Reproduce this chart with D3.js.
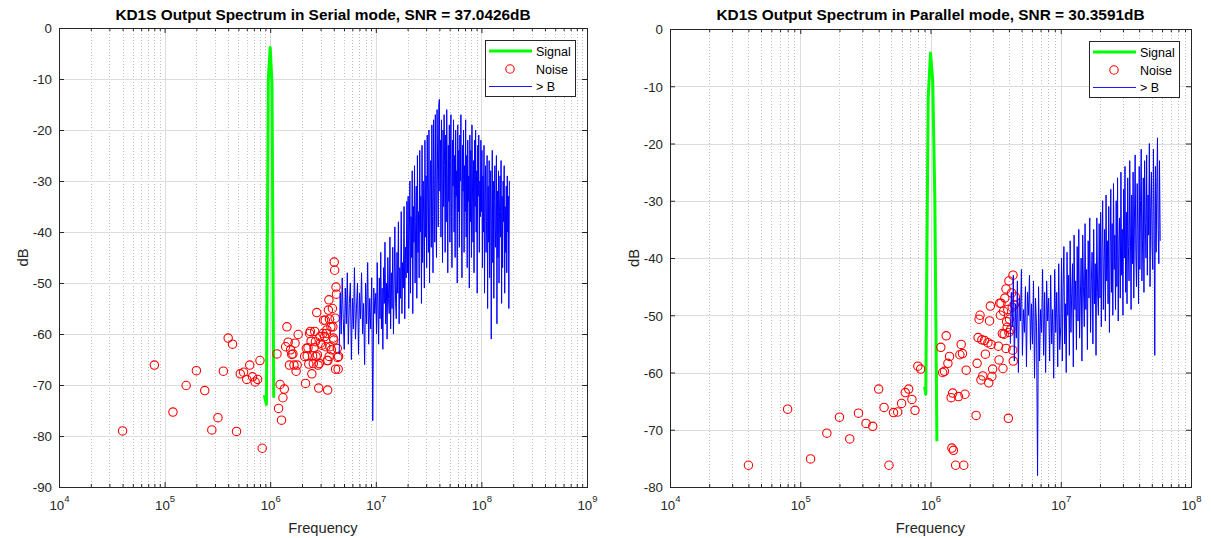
<!DOCTYPE html>
<html><head><meta charset="utf-8">
<script src="https://cdn.jsdelivr.net/npm/d3@7"></script>
<style>body{margin:0;background:#fff;}svg{display:block;font-family:"Liberation Sans",Arial,Helvetica,sans-serif;}</style>
</head><body><svg id="c" width="1211" height="538"></svg>
<script>
// ---------- DATA ----------
const leftTitle = "KD1S Output Spectrum in Serial mode, SNR = 37.0426dB";
const rightTitle = "KD1S Output Spectrum in Parallel mode, SNR = 30.3591dB";
const xLabel = "Frequency";
const yLabel = "dB";
const legendLabels = ["Signal", "Noise", "> B"];
const leftXExp = [4, 5, 6, 7, 8, 9];
const rightXExp = [4, 5, 6, 7, 8];
const leftYTicks = [0, -10, -20, -30, -40, -50, -60, -70, -80, -90];
const rightYTicks = [0, -10, -20, -30, -40, -50, -60, -70, -80];

// Signal (Hz, dB)
const leftSigF = [0.88e6, 0.92e6, 0.96e6, 1.0e6, 1.04e6, 1.08e6];
const leftSigDb = [-72, -73.8, -10, -3.8, -11, -72.5];
const rightSigF = [0.90e6, 0.92e6, 0.96e6, 1.0e6, 1.04e6, 1.08e6, 1.12e6];
const rightSigDb = [-62.5, -63.8, -12, -4.2, -9, -30, -72];

// Noise bins (MHz, dB)
const leftNoiseF = [0.04,0.08,0.12,0.16,0.20,0.24,0.28,0.32,0.36,0.40,0.44,0.48,0.52,0.56,0.60,0.64,0.68,0.72,0.76,0.80,0.84,
  1.16,1.20,1.24,1.28,1.32,1.36,1.40,1.44,1.48,1.52,1.56,1.60,1.64,1.68,1.72,1.76,1.80,1.84,
  2.12,2.16,2.20,2.24,2.28,2.32,2.36,2.40,2.44,2.48,2.52,2.56,2.60,2.64,2.68,2.72,2.76,2.80,2.84,2.88,2.92,2.96,
  3.00,3.08,3.16,3.20,3.28,3.32,3.36,3.40,3.44,3.46,3.50,3.52,3.56,3.60,3.62,3.64,3.68,3.76,3.80,3.88,3.92,3.96,
  4.00,4.04,4.08,4.12,4.16,4.20,4.24,4.32,4.36,4.40,4.44];
const leftNoiseDb = [-79.0,-66.1,-75.3,-70.1,-67.2,-71.1,-78.8,-76.4,-67.3,-60.8,-62.0,-79.1,-67.8,-67.5,-68.9,-66.1,-68.4,-69.4,-68.9,-65.2,-82.4,
  -63.9,-74.6,-69.9,-76.9,-72.5,-70.8,-62.5,-58.6,-61.6,-66.1,-63.1,-64.0,-63.9,-66.1,-61.8,-67.3,-66.1,-60.1,
  -64.4,-69.7,-62.8,-64.3,-62.7,-65.9,-59.9,-59.5,-61.4,-67.8,-64.3,-65.8,-62.7,-59.5,-61.5,-64.4,-55.8,-64.1,-66.1,-70.6,-65.8,-60.5,
  -61.8,-62.2,-59.9,-57.3,-60.5,-57.3,-62.5,-59.9,-59.2,-65.2,-71.0,-65.2,-55.3,-53.3,-64.4,-57.1,-62.5,-58.6,-63.1,-55.0,-58.6,-60.8,
  -61.2,-45.9,-47.5,-56.9,-66.9,-50.8,-52.2,-62.8,-64.6,-66.9,-64.4];
const rightNoiseF = [0.04,0.08,0.12,0.16,0.20,0.24,0.28,0.32,0.36,0.40,0.44,0.48,0.52,0.56,0.60,0.64,0.68,0.72,0.76,0.80,0.84,
  1.20,1.24,1.28,1.32,1.36,1.40,1.44,1.46,1.48,1.50,1.56,1.64,1.68,1.72,1.76,1.80,1.84,1.88,
  2.24,2.28,2.32,2.36,2.40,2.44,2.48,2.52,2.60,2.64,2.76,2.80,2.84,2.88,2.92,2.96,3.00,
  3.32,3.36,3.40,3.44,3.48,3.56,3.60,3.64,3.68,3.72,3.80,3.84,3.88,3.80,3.92,3.96,4.00,4.00,4.04,4.12,4.20,4.24,4.28,4.30,4.32,4.40,4.48];
const rightNoiseDb = [-76.2,-66.4,-75.1,-70.6,-67.8,-71.6,-67.1,-68.9,-69.4,-62.9,-66.1,-76.2,-67.0,-66.9,-65.4,-63.5,-62.9,-64.7,-66.6,-58.9,-59.4,
  -55.6,-60.0,-59.8,-53.6,-58.4,-57.2,-64.4,-73.2,-63.6,-73.6,-76.2,-64.2,-56.9,-55.1,-56.7,-76.2,-63.8,-59.6,
  -67.5,-58.4,-53.9,-50.7,-50.0,-61.3,-54.3,-60.6,-54.4,-56.8,-54.8,-61.8,-51.0,-48.4,-55.1,-60.7,-59.4,
  -55.4,-57.8,-47.9,-50.0,-47.9,-53.2,-59.3,-49.3,-53.3,-47.0,-55.8,-51.1,-52.1,-45.4,-49.0,-68.0,-53.0,-44.0,-50.7,-52.5,-46.1,-48.6,-56.1,-43.0,-58.0,-48.2,-46.8];

// "> B" out-of-band spectrum: segment edges (Hz) and dB samples per segment
const leftBlueEdges = [4.5e6, 1e7, 2e7, 4e7, 1e8, 1.84e8];
const leftBlueDb = [
  [-64,-52,-60,-49,-57,-63,-51,-58,-48,-62,-54,-50,-65,-53,-59,-47,-61,-55,-50,-64,-52,-57,-48,-60,-54,-66,-50,-58,-46,-62,-53,-59,-49,-77,-51,-56],
  [-52,-60,-46,-55,-62,-49,-57,-44,-59,-51,-63,-47,-54,-42,-58,-50,-61,-45,-53,-56,-41,-59,-48,-55,-43,-60,-50,-39,-54,-57,-44,-52,-38,-58,-47,-53,-36,-56,-46,-51,-35,-57,-43,-49,-34],
  [-48,-33,-55,-40,-30,-52,-37,-45,-28,-56,-35,-42,-27,-50,-38,-31,-53,-25,-44,-36,-49,-24,-40,-33,-54,-23,-46,-30,-38,-51,-22,-41,-29,-47,-21,-35,-44,-20,-50,-32,-26,-43,-19,-37,-48,-18,-30,-42,-17,-35,-45,-16,-28,-39,-15],
  [-14,-32,-22,-41,-18,-29,-46,-20,-35,-17,-27,-44,-21,-38,-16,-30,-48,-23,-34,-19,-42,-26,-17,-37,-47,-22,-31,-18,-40,-25,-45,-20,-33,-28,-50,-19,-36,-24,-43,-21,-30,-17,-39,-49,-23,-32,-20,-44,-27,-36,-18,-41,-25,-47,-22,-34,-29,-51,-21,-38,-24,-45,-19,-31,-42,-26,-48,-22,-35,-20,-40,-28,-52,-23,-33,-21,-44,-30,-37,-22],
  [-36,-24,-47,-29,-40,-23,-52,-33,-27,-44,-38,-25,-55,-31,-42,-26,-49,-35,-28,-61,-37,-24,-46,-30,-53,-34,-27,-43,-39,-25,-58,-32,-45,-28,-50,-36,-29,-41,-26,-54,-33,-47,-30,-38,-27,-52,-35,-44,-31,-48,-29,-40,-33,-55,-30]
];
const rightBlueEdges = [4.1e6, 1e7, 2e7, 5.8e7];
const rightBlueDb = [
  [-55,-46,-52,-43,-58,-48,-54,-44,-60,-47,-51,-42,-57,-49,-53,-45,-59,-46,-50,-43,-56,-48,-55,-44,-61,-47,-52,-78,-45,-58,-49,-53,-42,-57,-46,-60,-44,-51,-47,-58,-43,-55,-49,-61,-42,-53,-46,-59,-41,-56],
  [-52,-40,-58,-45,-38,-55,-48,-60,-39,-50,-43,-57,-37,-53,-46,-41,-59,-36,-49,-44,-56,-38,-51,-35,-54,-47,-40,-58,-36,-45,-52,-34,-49,-42,-56,-37,-47,-33,-53,-44,-39,-55,-35,-48,-41,-57,-33,-46,-50,-34],
  [-47,-32,-52,-38,-30,-49,-41,-35,-51,-29,-44,-37,-48,-31,-53,-40,-28,-46,-34,-50,-27,-42,-36,-49,-30,-45,-26,-51,-38,-33,-47,-25,-43,-35,-50,-28,-40,-24,-46,-32,-48,-26,-38,-44,-23,-36,-49,-29,-41,-25,-47,-33,-22,-39,-45,-27,-35,-48,-24,-42,-30,-21,-44,-37,-26,-46,-23,-34,-40,-22,-43,-29,-36,-20,-45,-31,-25,-38,-42,-21,-33,-57,-24,-39,-28,-19,-35,-41,-23,-37]
];

// ---------- DRAW ----------
const FONT = '"Liberation Sans", Arial, Helvetica, sans-serif';
const AX = '#262626';
const svg = d3.select('#c');

function blueSeries(edges, segs) {
  const out = [];
  segs.forEach((vals, s) => {
    const a = edges[s], b = edges[s + 1], last = s === segs.length - 1;
    const n = last ? vals.length - 1 : vals.length;
    vals.forEach((v, i) => out.push([a * Math.pow(b / a, i / n), v]));
  });
  return out;
}

function drawPanel(p) {
  const x = d3.scaleLog().domain([10 ** p.xExp[0], 10 ** p.xExp[p.xExp.length - 1]]).range([p.x0, p.x1]);
  const y = d3.scaleLinear().domain([p.yTicks[p.yTicks.length - 1], p.yTicks[0]]).range([p.y1, p.y0]);
  const snap = v => Math.round(v) + 0.5;
  const g = svg.append('g');
  const decades = p.xExp.map(e => 10 ** e);
  const minor = [];
  p.xExp.slice(0, -1).forEach(e => { for (let m = 2; m <= 9; m++) minor.push(m * 10 ** e); });

  // grid
  const grid = g.append('g');
  grid.selectAll('.mn').data(minor).join('line')
    .attr('x1', d => snap(x(d))).attr('x2', d => snap(x(d)))
    .attr('y1', p.y0).attr('y2', p.y1)
    .attr('stroke', '#bdbdbd').attr('stroke-width', 1).attr('stroke-dasharray', '1,2');
  grid.selectAll('.mx').data(decades.slice(1, -1)).join('line')
    .attr('x1', d => snap(x(d))).attr('x2', d => snap(x(d)))
    .attr('y1', p.y0).attr('y2', p.y1)
    .attr('stroke', '#dcdcdc').attr('stroke-width', 1);
  grid.selectAll('.my').data(p.yTicks.slice(1, -1)).join('line')
    .attr('y1', d => snap(y(d))).attr('y2', d => snap(y(d)))
    .attr('x1', p.x0).attr('x2', p.x1)
    .attr('stroke', '#dcdcdc').attr('stroke-width', 1);

  // data
  const line = d3.line().x(d => x(d[0])).y(d => y(d[1]));
  const sig = p.sigF.map((f, i) => [f, p.sigDb[i]]);
  g.append('path').attr('d', line(sig)).attr('fill', 'none')
    .attr('stroke', '#00ff00').attr('stroke-width', 3).attr('stroke-linejoin', 'round');
  const noise = p.noiseF.map((f, i) => [f * 1e6, p.noiseDb[i]]);
  g.append('g').selectAll('circle').data(noise).join('circle')
    .attr('cx', d => x(d[0])).attr('cy', d => y(d[1])).attr('r', 4.2)
    .attr('fill', 'none').attr('stroke', '#ff0000').attr('stroke-width', 1.1);
  const blue = blueSeries(p.blueEdges, p.blueDb);
  g.append('path').attr('d', line(blue)).attr('fill', 'none')
    .attr('stroke', '#0000ff').attr('stroke-width', 1);

  // axes
  const styleAxis = sel => {
    sel.select('.domain').remove();
    sel.selectAll('line').attr('stroke', AX);
    sel.attr('font-family', FONT).attr('font-size', 13.3);
    sel.selectAll('text').attr('fill', AX);
  };
  g.append('g').attr('transform', `translate(${p.x0},0)`)
    .call(d3.axisLeft(y).tickValues(p.yTicks).tickSize(-5).tickSizeOuter(0).tickPadding(7).tickFormat(d => d))
    .call(styleAxis).selectAll('text').attr('dy', '0.36em');
  g.append('g').attr('transform', `translate(${p.x1},0)`)
    .call(d3.axisRight(y).tickValues(p.yTicks).tickSize(-5).tickSizeOuter(0).tickFormat(() => ''))
    .call(styleAxis);
  g.append('g').attr('transform', `translate(0,${p.y0})`)
    .call(d3.axisTop(x).tickValues(decades).tickSize(-5).tickSizeOuter(0).tickFormat(() => ''))
    .call(styleAxis);
  g.append('g').attr('transform', `translate(0,${p.y0})`)
    .call(d3.axisTop(x).tickValues(minor).tickSize(-3).tickSizeOuter(0).tickFormat(() => ''))
    .call(styleAxis);
  g.append('g').attr('transform', `translate(0,${p.y1})`)
    .call(d3.axisBottom(x).tickValues(minor).tickSize(-3).tickSizeOuter(0).tickFormat(() => ''))
    .call(styleAxis);
  const xb = g.append('g').attr('transform', `translate(0,${p.y1})`)
    .call(d3.axisBottom(x).tickValues(decades).tickSize(-5).tickSizeOuter(0).tickFormat(() => ''))
    .call(styleAxis);
  xb.selectAll('.tick text').each(function (d) {
    const t = d3.select(this).text(null).attr('y', 23).attr('dy', 0).attr('text-anchor', 'middle');
    t.append('tspan').text('10');
    t.append('tspan').attr('dy', -8).attr('font-size', 9.5).text(String(Math.round(Math.log10(d))));
  });
  g.append('rect').attr('x', p.x0 + 0.5).attr('y', p.y0 + 0.5)
    .attr('width', p.x1 - p.x0).attr('height', p.y1 - p.y0)
    .attr('fill', 'none').attr('stroke', AX).attr('stroke-width', 1);

  // labels
  g.append('text').attr('x', (p.x0 + p.x1) / 2).attr('y', 20).attr('text-anchor', 'middle')
    .attr('font-family', FONT).attr('font-weight', 'bold').attr('font-size', 15.4).attr('fill', '#000')
    .text(p.title);
  g.append('text').attr('x', (p.x0 + p.x1) / 2).attr('y', 533).attr('text-anchor', 'middle')
    .attr('font-family', FONT).attr('font-size', 14.7).attr('fill', AX).text(xLabel);
  g.append('text').attr('transform', `translate(${p.x0 - 31},${(p.y0 + p.y1) / 2}) rotate(-90)`)
    .attr('text-anchor', 'middle').attr('font-family', FONT).attr('font-size', 14.7).attr('fill', AX).text(yLabel);

  // legend
  const lw = 90, lh = 56, lx = p.x1 - 12 - lw, ly = p.y0 + 12;
  const lg = g.append('g').attr('transform', `translate(${lx},${ly})`);
  lg.append('rect').attr('x', 0.5).attr('y', 0.5).attr('width', lw).attr('height', lh)
    .attr('fill', '#fff').attr('stroke', AX).attr('stroke-width', 1);
  const rows = [11, 29, 46.5];
  lg.append('line').attr('x1', 4).attr('x2', 47).attr('y1', rows[0]).attr('y2', rows[0])
    .attr('stroke', '#00ff00').attr('stroke-width', 3);
  lg.append('circle').attr('cx', 25).attr('cy', rows[1]).attr('r', 4.2)
    .attr('fill', 'none').attr('stroke', '#ff0000').attr('stroke-width', 1.1);
  lg.append('line').attr('x1', 4).attr('x2', 47).attr('y1', rows[2]).attr('y2', rows[2])
    .attr('stroke', '#0000ff').attr('stroke-width', 0.9);
  lg.selectAll('text').data(legendLabels).join('text')
    .attr('x', 51).attr('y', (d, i) => rows[i]).attr('dy', '0.36em')
    .attr('font-family', FONT).attr('font-size', 12.5).attr('fill', '#000').text(d => d);
}

drawPanel({title: leftTitle, x0: 59, x1: 587, y0: 28, y1: 487, xExp: leftXExp, yTicks: leftYTicks,
  sigF: leftSigF, sigDb: leftSigDb, noiseF: leftNoiseF, noiseDb: leftNoiseDb,
  blueEdges: leftBlueEdges, blueDb: leftBlueDb});
drawPanel({title: rightTitle, x0: 670, x1: 1191, y0: 29, y1: 487, xExp: rightXExp, yTicks: rightYTicks,
  sigF: rightSigF, sigDb: rightSigDb, noiseF: rightNoiseF, noiseDb: rightNoiseDb,
  blueEdges: rightBlueEdges, blueDb: rightBlueDb});
</script></body></html>
